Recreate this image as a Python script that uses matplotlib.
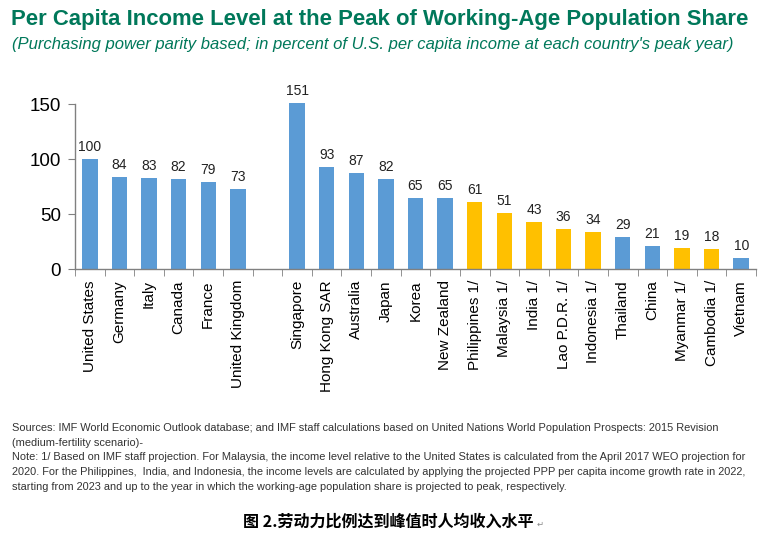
import numpy as np
import matplotlib
matplotlib.use("Agg")
import matplotlib.pyplot as plt

categories = ["United States", "Germany", "Italy", "Canada", "France", "United Kingdom", "",
              "Singapore", "Hong Kong SAR", "Australia", "Japan", "Korea", "New Zealand",
              "Philippines 1/", "Malaysia 1/", "India 1/", "Lao P.D.R. 1/", "Indonesia 1/",
              "Thailand", "China", "Myanmar 1/", "Cambodia 1/", "Vietnam"]
values = [100, 84, 83, 82, 79, 73, np.nan,
          151, 93, 87, 82, 65, 65,
          61, 51, 43, 36, 34,
          29, 21, 19, 18, 10]
projected = [False] * 13 + [True] * 5 + [False, False, True, True, False]

BLUE = "#5B9BD5"
GOLD = "#FFC000"
GREEN = "#00785A"
FONT = "Liberation Sans"

fig = plt.figure(figsize=(7.65, 5.4), dpi=100)
ax = fig.add_axes([75 / 765, 1 - 269 / 540, (756 - 75) / 765, (269 - 104) / 540])

x = np.arange(len(categories))
colors = [GOLD if p else BLUE for p in projected]
ax.bar(x, values, width=0.52, color=colors, zorder=2, clip_on=False)
for xi, v in zip(x, values):
    if not np.isnan(v):
        ax.text(xi, v + 4.5, f"{v:.0f}", ha="center", va="bottom", fontsize=10,
                family=FONT, color="#222222")

ax.set_xlim(-0.5, len(categories) - 0.5)
ax.set_ylim(0, 150)
ax.set_yticks([0, 50, 100, 150])
ax.set_yticklabels(["0", "50", "100", "150"], fontsize=13.5, family=FONT)
ax.set_xticks(x)
ax.set_xticklabels(categories, rotation=90, fontsize=11, family=FONT)
ax.tick_params(axis="x", length=0, pad=8)
ax.set_xticks(np.arange(len(categories) + 1) - 0.5, minor=True)
ax.tick_params(axis="x", which="minor", length=5, direction="out", color="#808080")
ax.tick_params(axis="y", length=5, direction="out", color="#808080", pad=5)
for s in ["top", "right"]:
    ax.spines[s].set_visible(False)
for s in ["left", "bottom"]:
    ax.spines[s].set_color("#808080")
    ax.spines[s].set_linewidth(1.0)

renderer = fig.canvas.get_renderer()


def fit(t, width_px):
    w = t.get_window_extent(renderer).width
    t.set_fontsize(t.get_fontsize() * width_px / w)


title = fig.text(11 / 765, 1 - 20 / 540, "Per Capita Income Level at the Peak of Working-Age Population Share",
                 fontsize=17, fontweight="bold", color=GREEN, family=FONT, va="center", ha="left")
fit(title, 740)
sub = fig.text(12 / 765, 1 - 45 / 540,
               "(Purchasing power parity based; in percent of U.S. per capita income at each country's peak year)",
               fontsize=12, style="italic", color=GREEN, family=FONT, va="center", ha="left")
fit(sub, 722)

notes = [
    "Sources: IMF World Economic Outlook database; and IMF staff calculations based on United Nations World Population Prospects: 2015 Revision",
    "(medium-fertility scenario)-",
    "Note: 1/ Based on IMF staff projection. For Malaysia, the income level relative to the United States is calculated from the April 2017 WEO projection for",
    "2020. For the Philippines,  India, and Indonesia, the income levels are calculated by applying the projected PPP per capita income growth rate in 2022,",
    "starting from 2023 and up to the year in which the working-age population share is projected to peak, respectively.",
]
note_texts = []
for i, line in enumerate(notes):
    note_texts.append(fig.text(12 / 765, 1 - (428 + i * 14.7) / 540, line, fontsize=8, color="#333333",
                               family=FONT, va="center", ha="left"))
w0 = note_texts[2].get_window_extent(renderer).width
for t in note_texts:
    t.set_fontsize(8 * 736 / w0)

cap = fig.text(243 / 765, 1 - 522 / 540, "图 2.劳动力比例达到峰值时人均收入水平",
               fontsize=11.5, fontweight="bold", family=["Noto Sans CJK SC", "DejaVu Sans"],
               va="center", ha="left", color="black")
fit(cap, 292)
fig.text(537 / 765, 1 - 524 / 540, "↵", fontsize=6, color="#888888",
         family="DejaVu Sans", va="center", ha="left")

fig.savefig("out.png", dpi=100)
